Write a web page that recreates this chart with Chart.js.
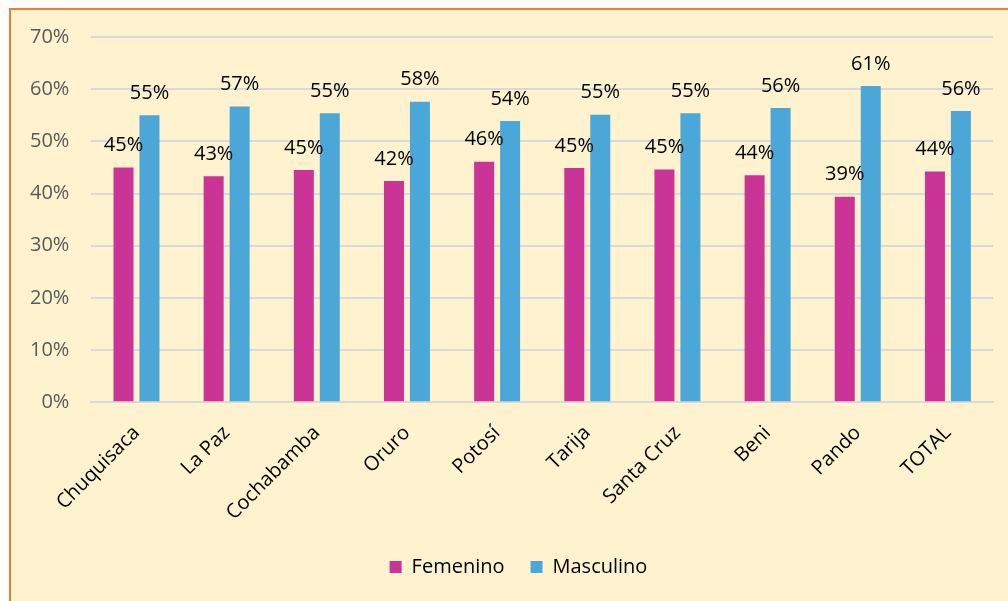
<!DOCTYPE html>
<html>
<head>
<meta charset="utf-8">
<script src="https://cdn.jsdelivr.net/npm/chart.js@4.4.1/dist/chart.umd.min.js"></script>
<style>
  html, body { margin: 0; padding: 0; background: #fff; }
  #box { position: absolute; left: 0; top: 0; width: 1008px; height: 601px; }
</style>
</head>
<body>
<div id="box"><canvas id="chart" width="1008" height="601"></canvas></div>
<script>
const categories = ['Chuquisaca', 'La Paz', 'Cochabamba', 'Oruro', 'Potosí', 'Tarija', 'Santa Cruz', 'Beni', 'Pando', 'TOTAL'];
const femenino = [45.0, 43.3, 44.5, 42.4, 46.1, 44.9, 44.6, 43.5, 39.4, 44.2];
const masculino = [55.0, 56.7, 55.4, 57.6, 53.9, 55.1, 55.4, 56.4, 60.6, 55.8];
const yTicks = [0, 10, 20, 30, 40, 50, 60, 70];

const FONT = '"Open Sans", "Noto Sans", sans-serif';

// Frame: pale background with orange edge
const framePlugin = {
    id: 'frame',
    beforeDraw(chart) {
        const ctx = chart.ctx;
        ctx.save();
        ctx.fillStyle = '#fff';
        ctx.fillRect(0, 0, chart.width, chart.height);
        ctx.fillStyle = '#FFF2CE';
        ctx.fillRect(9, 8, chart.width - 9, chart.height - 8);
        ctx.strokeStyle = '#ED7D31';
        ctx.lineWidth = 2;
        ctx.beginPath();
        ctx.moveTo(10, chart.height);
        ctx.lineTo(10, 9);
        ctx.lineTo(chart.width, 9);
        ctx.stroke();
        ctx.restore();
    },
    // legend sits a bit right of centre in the original
    afterLayout(chart) {
        if (chart.legend) {
            chart.legend.left += 18;
            chart.legend.right += 18;
        }
    }
};

// Value labels above each bar
const valueLabels = {
    id: 'valueLabels',
    afterDatasetsDraw(chart) {
        const ctx = chart.ctx;
        ctx.save();
        ctx.font = '20px ' + FONT;
        ctx.fillStyle = '#000';
        ctx.textAlign = 'center';
        ctx.textBaseline = 'bottom';
        chart.data.datasets.forEach((ds, i) => {
            chart.getDatasetMeta(i).data.forEach((bar, j) => {
                ctx.fillText(Math.round(ds.data[j]) + '%', bar.x, bar.y - 12);
            });
        });
        ctx.restore();
    }
};

new Chart(document.getElementById('chart'), {
    type: 'bar',
    data: {
        labels: categories,
        datasets: [
            { label: 'Femenino', data: femenino, backgroundColor: '#CB3497' },
            { label: 'Masculino', data: masculino, backgroundColor: '#4AA7D7' }
        ]
    },
    options: {
        responsive: false,
        animation: false,
        categoryPercentage: 0.576,
        barPercentage: 0.77,
        layout: { padding: { left: 8, right: 15, top: 37, bottom: 14 } },
        scales: {
            y: {
                min: 0,
                max: 70,
                afterBuildTicks: axis => { axis.ticks = yTicks.map(v => ({ value: v })); },
                ticks: {
                    callback: v => v + '%',
                    color: '#595959',
                    font: { family: FONT, size: 20 },
                    padding: 22
                },
                grid: { color: '#D9D9D9', lineWidth: 2, drawTicks: false },
                border: { display: false }
            },
            x: {
                afterFit: axis => { axis.height -= 13; },
                ticks: {
                    color: '#000',
                    font: { family: FONT, size: 20 },
                    maxRotation: 45,
                    minRotation: 45,
                    padding: 19
                },
                grid: { display: false, drawTicks: false },
                border: { color: '#D9D9D9', width: 2 }
            }
        },
        plugins: {
            legend: {
                position: 'bottom',
                labels: {
                    boxWidth: 12,
                    boxHeight: 12,
                    padding: 26,
                    color: '#000',
                    font: { family: FONT, size: 20 }
                }
            },
            tooltip: { enabled: false }
        }
    },
    plugins: [framePlugin, valueLabels]
});
</script>
</body>
</html>
